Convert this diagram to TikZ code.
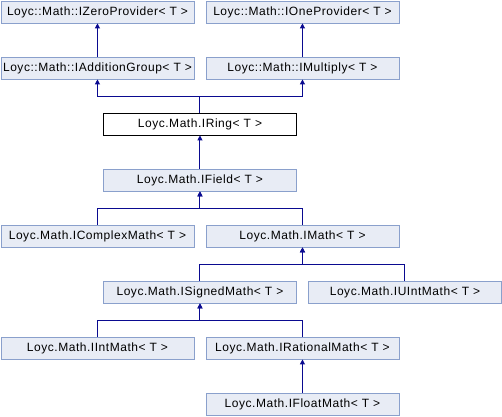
\documentclass[tikz,border=0pt]{standalone}
\usepackage{fontspec}
\setmainfont{Liberation Sans}[LetterSpace=4.5]
\usetikzlibrary{arrows.meta}
\definecolor{boxfill}{HTML}{E8ECF5}
\definecolor{boxline}{HTML}{8AA0CC}
\definecolor{edgecol}{HTML}{0A0A90}
\tikzset{
  cls/.style={draw=boxline, fill=boxfill, line width=0.9pt, text width=193pt, align=center, minimum height=22pt, anchor=north west, inner sep=0pt, font=\fontsize{12pt}{14pt}\selectfont},
  clsmain/.style={cls, draw=black, fill=white},
  inh/.style={draw=edgecol, line width=1pt, -{Triangle[length=5pt,width=5pt]}}
}
\begin{document}
\begin{tikzpicture}[x=1pt,y=-1pt]
\useasboundingbox (0,0) rectangle (502,416);
\node[cls] (zero) at (0.5,0.5) {Loyc::Math::IZeroProvider< T >};
\node[cls] (one) at (205.5,0.5) {Loyc::Math::IOneProvider< T >};
\node[cls] (add) at (0.5,56.5) {Loyc::Math::IAdditionGroup< T >};
\node[cls] (mul) at (205.5,56.5) {Loyc::Math::IMultiply< T >};
\node[clsmain] (ring) at (103,112.5) {Loyc.Math.IRing< T >};
\node[cls] (field) at (103,168.5) {Loyc.Math.IField< T >};
\node[cls] (cplx) at (0.5,224.5) {Loyc.Math.IComplexMath< T >};
\node[cls] (math) at (205.5,224.5) {Loyc.Math.IMath< T >};
\node[cls] (signed) at (103,280.5) {Loyc.Math.ISignedMath< T >};
\node[cls] (uint) at (308,280.5) {Loyc.Math.IUIntMath< T >};
\node[cls] (int) at (0.5,336.5) {Loyc.Math.IIntMath< T >};
\node[cls] (rat) at (205.5,336.5) {Loyc.Math.IRationalMath< T >};
\node[cls] (flt) at (205.5,392.5) {Loyc.Math.IFloatMath< T >};
% edges
\draw[inh] (add.north) -- (zero.south);
\draw[inh] (mul.north) -- (one.south);
\draw[inh] (ring.north) -- ++(0,-16) -| (add.south);
\draw[inh] (ring.north) -- ++(0,-16) -| (mul.south);
\draw[inh] (field.north) -- (ring.south);
\draw[inh] (cplx.north) -- ++(0,-16) -| (field.south);
\draw[inh] (math.north) -- ++(0,-16) -| (field.south);
\draw[inh] (signed.north) -- ++(0,-16) -| (math.south);
\draw[inh] (uint.north) -- ++(0,-16) -| (math.south);
\draw[inh] (int.north) -- ++(0,-16) -| (signed.south);
\draw[inh] (rat.north) -- ++(0,-16) -| (signed.south);
\draw[inh] (flt.north) -- (rat.south);
\end{tikzpicture}
\end{document}
